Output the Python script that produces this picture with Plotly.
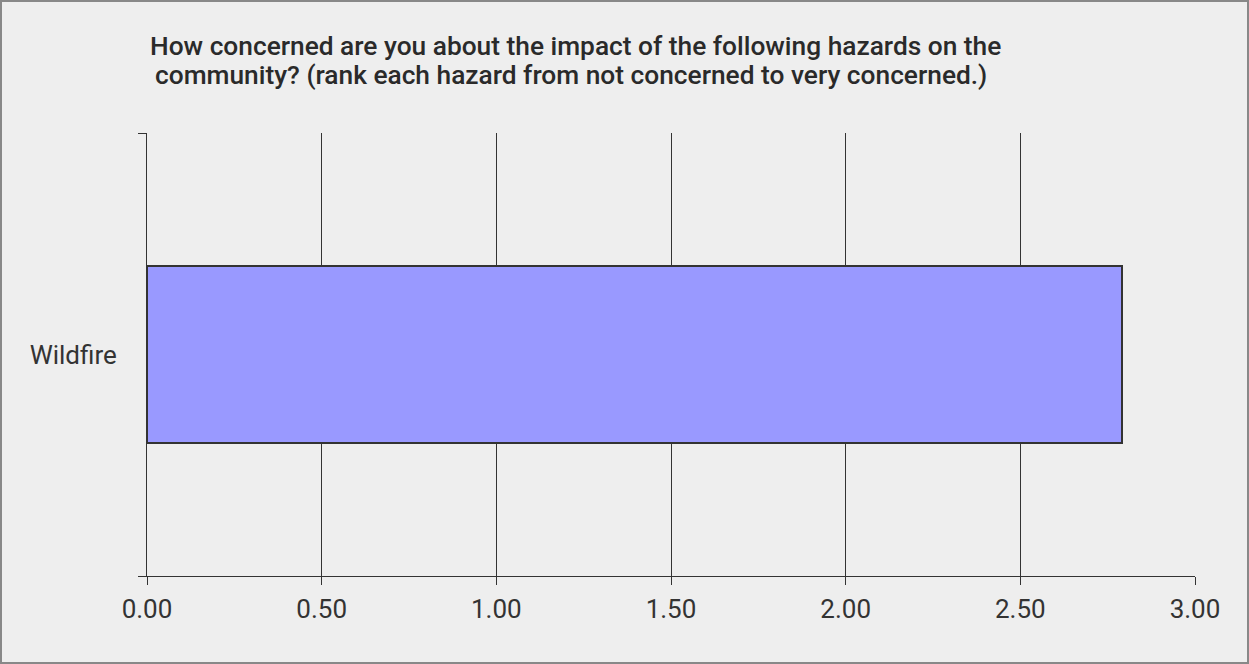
import plotly.graph_objects as go

categories = ["Wildfire"]
values = [2.79]
x_ticks = [0, 0.5, 1.0, 1.5, 2.0, 2.5, 3.0]
x_tick_labels = ["0.00", "0.50", "1.00", "1.50", "2.00", "2.50", "3.00"]
title_line1 = "How concerned are you about the impact of the following hazards on the"
title_line2 = "community? (rank each hazard from not concerned to very concerned.)"

W, H = 1249, 664
ML, MR, MT, MB = 147, 54, 133, 88
PW, PH = W - ML - MR, H - MT - MB

def px_x(x):
    return (x - ML) / PW

def px_y(y):
    return 1 - (y - MT) / PH

fig = go.Figure()
fig.add_trace(go.Bar(
    x=values, y=categories, orientation="h", width=0.4,
    marker=dict(color="#9999ff", line=dict(color="#333333", width=2)),
    hoverinfo="x+y",
))

fig.update_layout(
    width=W, height=H,
    margin=dict(l=ML, r=MR, t=MT, b=MB, pad=0),
    paper_bgcolor="#eeeeee", plot_bgcolor="#eeeeee",
    showlegend=False,
    font=dict(family="Roboto, Arial, sans-serif", color="#333333", size=26),
    bargap=0,
)
fig.update_xaxes(
    range=[0, 3], tickvals=x_ticks, ticktext=x_tick_labels,
    showgrid=True, gridcolor="#333333", gridwidth=1,
    zeroline=False, showline=True, linecolor="#333333", linewidth=1,
    ticks="outside", ticklen=8, tickcolor="#333333",
    tickfont=dict(size=26, color="#333333"), ticklabelstandoff=2,
)
fig.update_yaxes(
    range=[-0.5, 0.5], type="category", tickson="boundaries",
    showgrid=False, zeroline=False, showline=True, linecolor="#333333", linewidth=1,
    ticks="outside", ticklen=8, tickcolor="#333333",
    tickfont=dict(size=26, color="#333333"), ticklabelstandoff=24,
)
title_font = dict(size=26.3, color="#2a2a2a", family="Roboto, Arial, sans-serif", weight=500)
fig.add_annotation(
    xref="paper", yref="paper", x=px_x(148), y=px_y(46),
    xanchor="left", yanchor="middle", align="left", showarrow=False,
    text=title_line1, font=title_font,
)
fig.add_annotation(
    xref="paper", yref="paper", x=px_x(153), y=px_y(75),
    xanchor="left", yanchor="middle", align="left", showarrow=False,
    text=title_line2, font=title_font,
)
fig.add_shape(
    type="rect", xref="paper", yref="paper",
    x0=px_x(1), x1=px_x(W - 1), y0=px_y(H - 1), y1=px_y(1),
    line=dict(color="#888888", width=2), fillcolor="rgba(0,0,0,0)", layer="below",
)
fig.write_html(
    "out.html",
    config={"displayModeBar": False},
    post_script="document.body.style.margin='0';document.body.style.padding='0';",
)
